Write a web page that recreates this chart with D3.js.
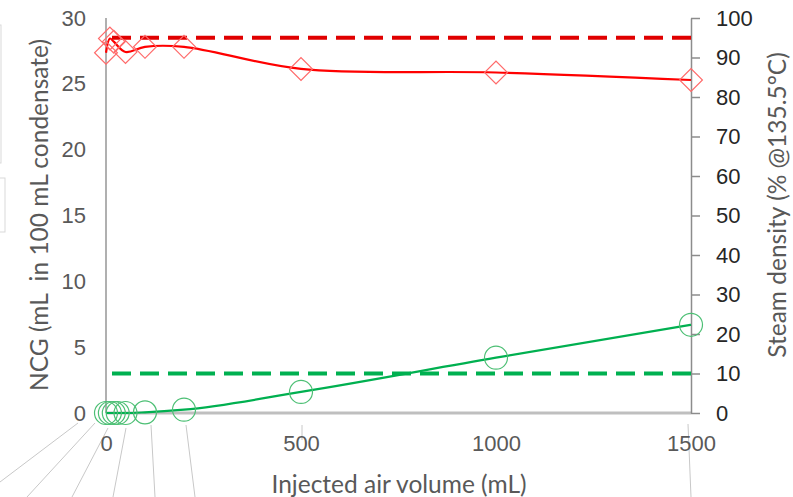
<!DOCTYPE html>
<html lang="en">
<head>
    <meta charset="UTF-8">
    <title>NCG and steam density vs injected air volume</title>
    <script src="https://cdn.jsdelivr.net/npm/d3@7"></script>
</head>
<style>
    body { margin: 0; background: #fff; }
    svg { font-family: Lato, "Open Sans", sans-serif; }
    .tick-left text, .tick-x text { fill: #595959; font-size: 22px; }
    .tick-right text { fill: #262626; font-size: 22px; }
    .axis-title { fill: #595959; font-size: 24.5px; }
</style>
<body>
<div id="graphDiv"></div>
<script>
    // NCG (left axis, mL in 100 mL condensate)
    const ncgAir = [0, 10, 20, 30, 50, 100, 200, 500, 1000, 1500];
    const ncgValues = [0, 0, 0, 0, 0, 0.05, 0.25, 1.6, 4.2, 6.7];

    // Steam density (right axis, % @135.5°C)
    const steamAir = [0, 10, 20, 50, 100, 200, 500, 1000, 1500];
    const steamValues = [91.2, 94.8, 94.0, 91.4, 92.7, 92.7, 87.1, 86.2, 84.3];

    // reference lines (right axis %)
    const steamRef = 95;
    const ncgRef = 10;

    const xTicks = [0, 500, 1000, 1500];
    const leftTicks = [0, 5, 10, 15, 20, 25, 30];
    const rightTicks = [0, 10, 20, 30, 40, 50, 60, 70, 80, 90, 100];

    const width = 793, height = 497;
    const margin = {top: 18, right: 102, bottom: 84, left: 106};

    const svg = d3.select("#graphDiv").append("svg")
        .attr("width", width)
        .attr("height", height);

    const x = d3.scaleLinear().domain([0, 1500]).range([margin.left, width - margin.right]);
    const yL = d3.scaleLinear().domain([0, 30]).range([height - margin.bottom, margin.top]);
    const yR = d3.scaleLinear().domain([0, 100]).range([height - margin.bottom, margin.top]);

    // leftover data-label boxes and leader lines (off to the left / below)
    svg.append("rect").attr("x", -20).attr("y", 25).attr("width", 21).attr("height", 138)
        .attr("fill", "none").attr("stroke", "#d9d9d9");
    svg.append("rect").attr("x", -20).attr("y", 178).attr("width", 25).attr("height", 54)
        .attr("fill", "none").attr("stroke", "#d9d9d9");

    const leaders = [
        [78, 423, 0, 482], [95, 423, 27, 497], [108, 428, 72, 497],
        [126, 428, 113, 497], [151, 425, 155, 497], [186, 425, 195, 497],
        [688, 424, 691, 497], [302, 425, 302, 440]
    ];
    svg.append("g").selectAll("line").data(leaders).join("line")
        .attr("x1", d => d[0]).attr("y1", d => d[1])
        .attr("x2", d => d[2]).attr("y2", d => d[3])
        .attr("stroke", "#c8c8c8").attr("stroke-width", 1);

    // axes lines
    svg.append("line")
        .attr("x1", x(0)).attr("x2", x(1500)).attr("y1", yL(0)).attr("y2", yL(0))
        .attr("stroke", "#bfbfbf").attr("stroke-width", 3);
    svg.append("line")
        .attr("x1", x(0)).attr("x2", x(0)).attr("y1", yL(0)).attr("y2", yL(30))
        .attr("stroke", "#b0b0b0").attr("stroke-width", 2);

    // left axis labels
    svg.append("g").attr("class", "tick-left")
        .attr("transform", `translate(${margin.left},0)`)
        .call(d3.axisLeft(yL).tickValues(leftTicks).tickSize(0).tickPadding(20))
        .call(g => g.select(".domain").remove())
        .selectAll("text").attr("font-family", null).attr("font-size", null);

    // right axis
    const rAxis = svg.append("g").attr("class", "tick-right")
        .attr("transform", `translate(${width - margin.right},0)`)
        .call(d3.axisRight(yR).tickValues(rightTicks).tickSize(9).tickSizeOuter(0).tickPadding(16));
    rAxis.select(".domain").attr("stroke", "#8c8c8c").attr("stroke-width", 1.5);
    rAxis.selectAll("line").attr("stroke", "#8c8c8c").attr("stroke-width", 1.5);
    rAxis.selectAll("text").attr("font-family", null).attr("font-size", null);

    // x axis labels
    svg.append("g").attr("class", "tick-x")
        .attr("transform", `translate(0,${height - margin.bottom})`)
        .call(d3.axisBottom(x).tickValues(xTicks).tickFormat(d3.format("d")).tickSize(0).tickPadding(22))
        .call(g => g.select(".domain").remove())
        .selectAll("text").attr("font-family", null).attr("font-size", null);

    // reference dashed lines
    svg.append("line")
        .attr("x1", x(0) + 6).attr("x2", x(1500)).attr("y1", yR(steamRef)).attr("y2", yR(steamRef))
        .attr("stroke", "#e00000").attr("stroke-width", 4).attr("stroke-dasharray", "19,9");
    svg.append("line")
        .attr("x1", x(0) + 6).attr("x2", x(1500)).attr("y1", yR(ncgRef)).attr("y2", yR(ncgRef))
        .attr("stroke", "#00b050").attr("stroke-width", 4).attr("stroke-dasharray", "19,9");

    const curve = d3.curveCatmullRom.alpha(0.5);

    // steam density
    const steamData = steamAir.map((a, i) => [a, steamValues[i]]);
    svg.append("path")
        .datum(steamData)
        .attr("fill", "none").attr("stroke", "#ff0000").attr("stroke-width", 2.2)
        .attr("d", d3.line().x(d => x(d[0])).y(d => yR(d[1])).curve(curve));
    svg.append("g").selectAll("path").data(steamData).join("path")
        .attr("d", d3.symbol(d3.symbolSquare, 260))
        .attr("transform", d => `translate(${x(d[0])},${yR(d[1])}) rotate(45)`)
        .attr("fill", "none").attr("stroke", "#ff6b6b").attr("stroke-width", 1.2);

    // NCG
    const ncgData = ncgAir.map((a, i) => [a, ncgValues[i]]);
    svg.append("path")
        .datum(ncgData)
        .attr("fill", "none").attr("stroke", "#00b050").attr("stroke-width", 2.2)
        .attr("d", d3.line().x(d => x(d[0])).y(d => yL(d[1])).curve(d3.curveMonotoneX));
    svg.append("g").selectAll("circle").data(ncgData).join("circle")
        .attr("cx", d => x(d[0])).attr("cy", d => yL(d[1])).attr("r", 11.5)
        .attr("fill", "none").attr("stroke", "#4cbf74").attr("stroke-width", 1.2);

    // axis titles
    svg.append("text").attr("class", "axis-title")
        .attr("x", 399).attr("y", 493).attr("text-anchor", "middle")
        .text("Injected air volume (mL)");
    svg.append("text").attr("class", "axis-title")
        .attr("text-anchor", "middle").attr("xml:space", "preserve").style("white-space", "pre")
        .attr("transform", "translate(48,215) rotate(-90)")
        .text("NCG (mL  in 100 mL condensate)");
    svg.append("text").attr("class", "axis-title")
        .attr("text-anchor", "middle")
        .attr("transform", "translate(786,205) rotate(-90)")
        .text("Steam density (% @135.5°C)");
</script>
</body>
</html>
